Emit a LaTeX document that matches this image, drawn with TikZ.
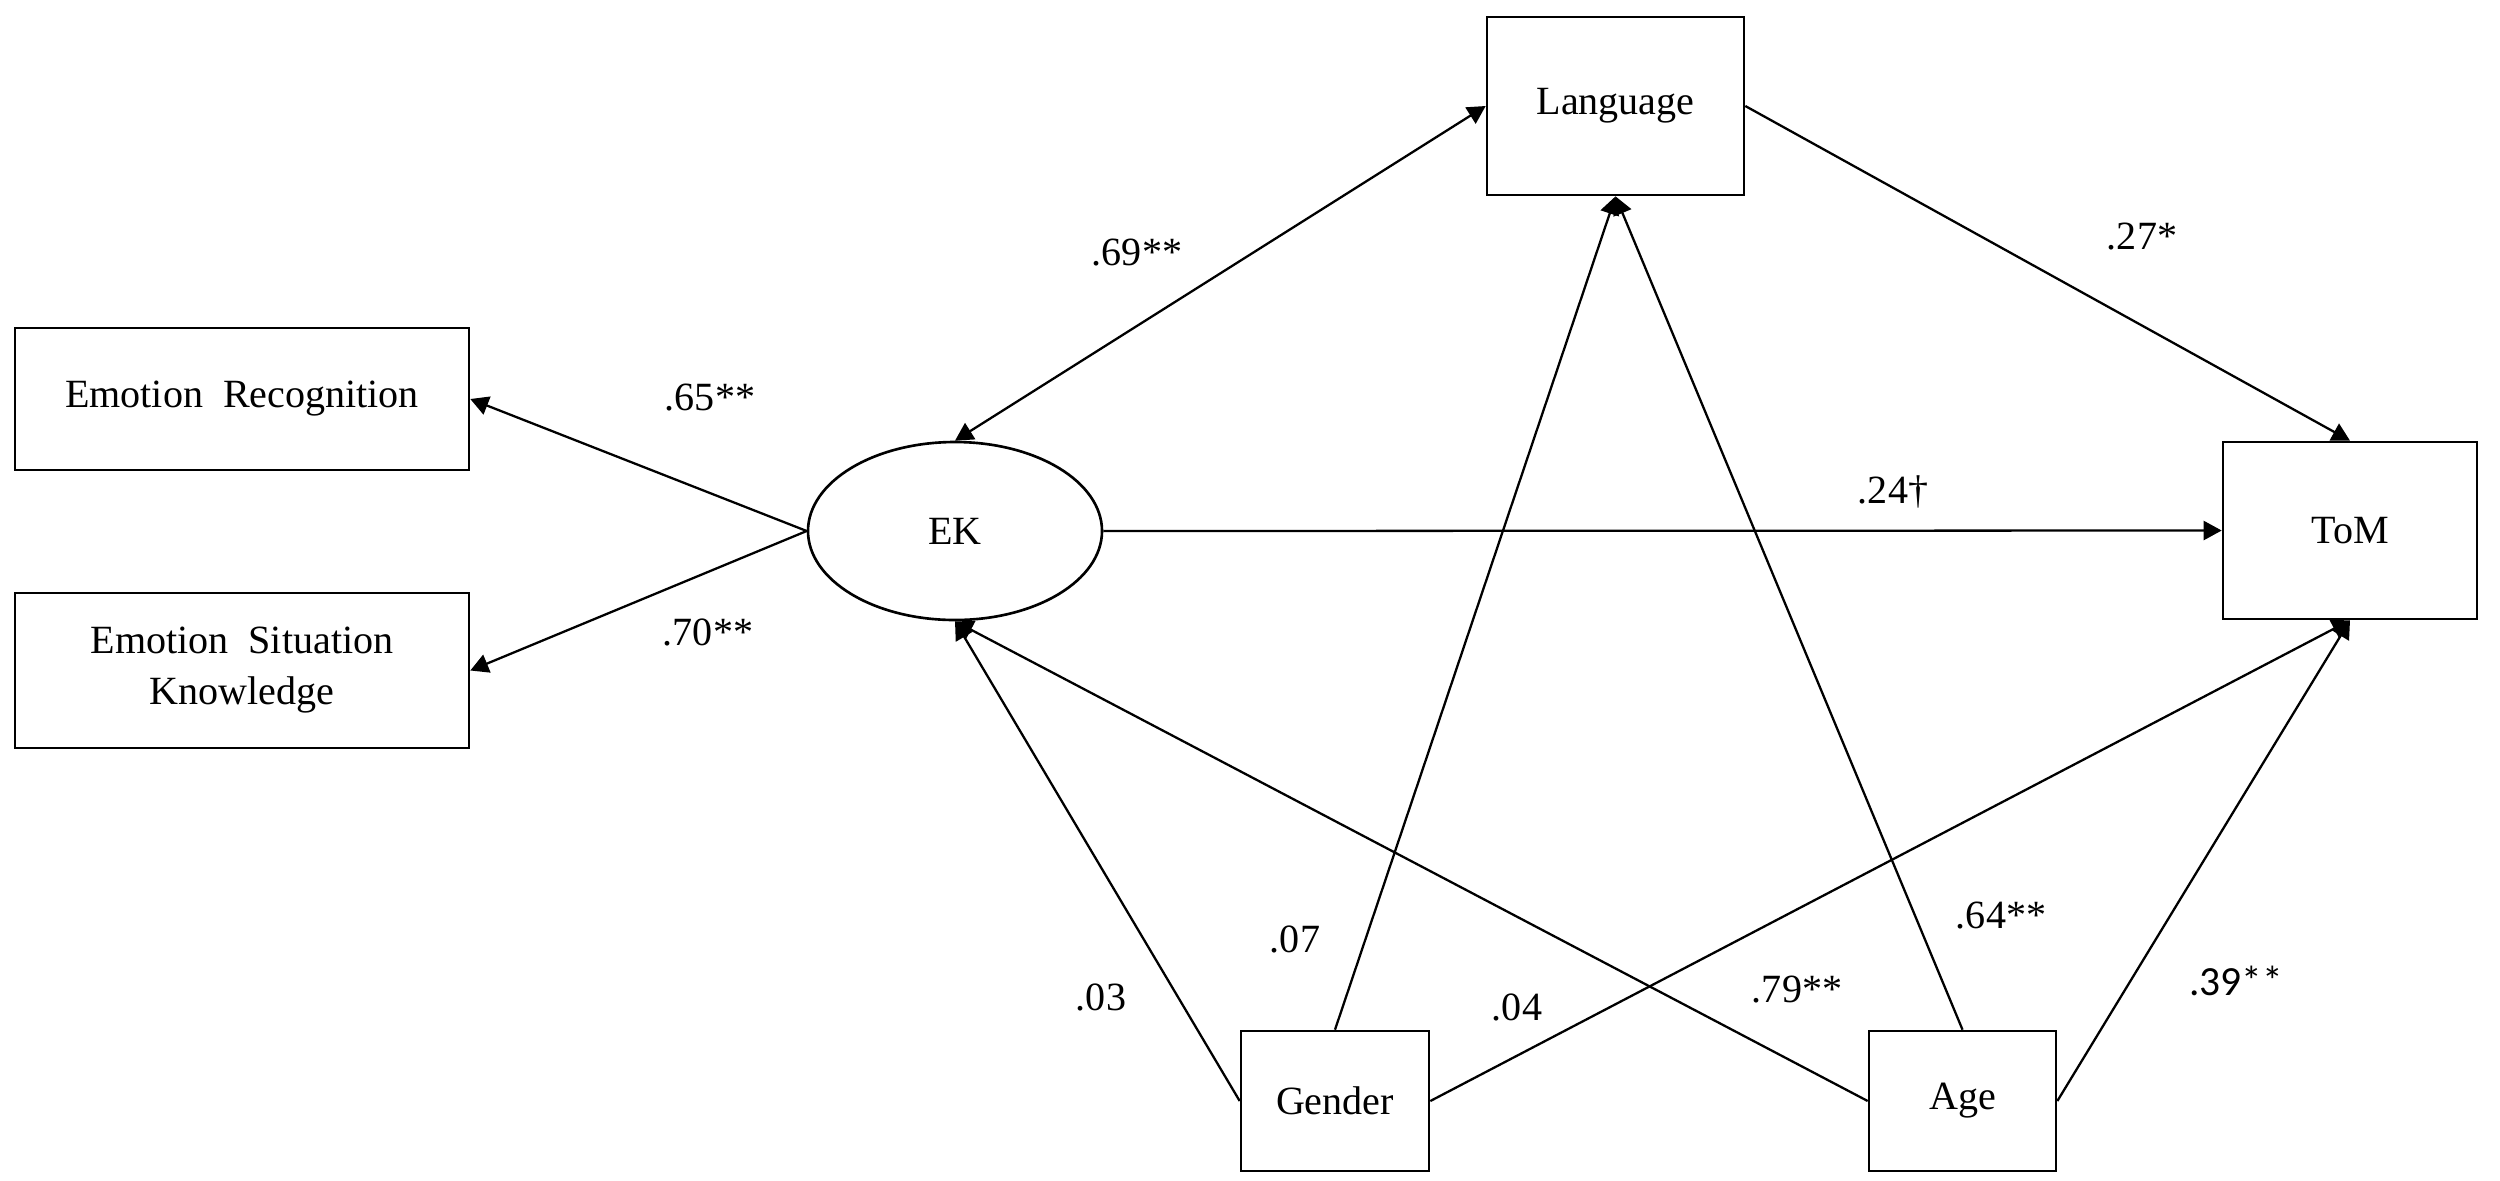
\documentclass[tikz,border=0pt]{standalone}
\usepackage{fontspec}
\setmainfont{Liberation Serif}
\newfontfamily\labsans{Carlito}
\usetikzlibrary{shapes.geometric,arrows.meta}
\begin{document}
\begin{tikzpicture}[
  x=1cm, y=1cm,
  every node/.style={font=\fontsize{11.4pt}{14.2pt}\selectfont},
  boxnode/.style={draw=black, line width=0.75pt, rectangle, inner sep=0pt, align=center},
  ovalnode/.style={draw=black, line width=0.75pt, ellipse, inner sep=0pt, minimum width=2.94cm, minimum height=1.78cm},
  conn/.style={draw=black, line width=0.65pt, -{Triangle[length=0.18cm,width=0.19cm]}},
  bconn/.style={draw=black, line width=0.65pt, {Triangle[length=0.18cm,width=0.19cm]}-{Triangle[length=0.18cm,width=0.19cm]}},
  coef/.style={anchor=base, inner sep=0pt}
]
\useasboundingbox[fill=white] (0,0) rectangle (25,-11.8);

% boxes
\node[boxnode, minimum width=4.54cm, minimum height=1.42cm] (er) at (2.42,-3.99) {Emotion\hspace{0.5em}Recognition};
\node[boxnode, minimum width=4.54cm, minimum height=1.55cm] (esk) at (2.42,-6.705) {Emotion\hspace{0.5em}Situation\\[0.3pt]Knowledge};
\node[ovalnode] (ek) at (9.55,-5.31) {EK};
\node[boxnode, minimum width=2.57cm, minimum height=1.78cm] (lang) at (16.155,-1.06) {Language};
\node[boxnode, minimum width=2.54cm, minimum height=1.77cm] (tom) at (23.50,-5.305) {ToM};
\node[boxnode, minimum width=1.88cm, minimum height=1.40cm] (gender) at (13.35,-11.01) {Gender};
\node[boxnode, minimum width=1.87cm, minimum height=1.40cm] (age) at (19.625,-11.01) {Age};

% connectors
\draw[conn] (ek.west) -- (er.east);
\draw[conn] (ek.west) -- (esk.east);
\draw[bconn] (ek.north) -- (lang.west);
\draw[conn] (lang.east) -- (tom.north);
\draw[conn] (ek.east) -- (tom.west);
\draw[conn] (gender.west) -- (ek.south);
\draw[conn] (age.west) -- (ek.south);
\draw[conn] (gender.north) -- (lang.south);
\draw[conn] (age.north) -- (lang.south);
\draw[conn] (gender.east) -- (tom.south);
\draw[conn] (age.east) -- (tom.south);

% coefficients
\node[coef] (c69) at (11.37,-2.65) {.69**};
\node[coef] (c65) at (7.10,-4.10) {.65**};
\node[coef] (c70) at (7.08,-6.45) {.70**};
\node[coef] (c27) at (21.42,-2.49) {.27*};
\node[coef] (c24) at (18.93,-5.03) {.24†};
\node[coef] (c03) at (11.01,-10.10) {.03};
\node[coef] (c07) at (12.95,-9.52) {.07};
\node[coef] (c04) at (15.17,-10.20) {.04};
\node[coef] (c79) at (17.97,-10.02) {.79**};
\node[coef] (c64) at (20.01,-9.28) {.64**};
\node[coef, font=\labsans\fontsize{11.8pt}{14pt}\selectfont] (c39) at (22.36,-9.95) {.39**};
\end{tikzpicture}
\end{document}
